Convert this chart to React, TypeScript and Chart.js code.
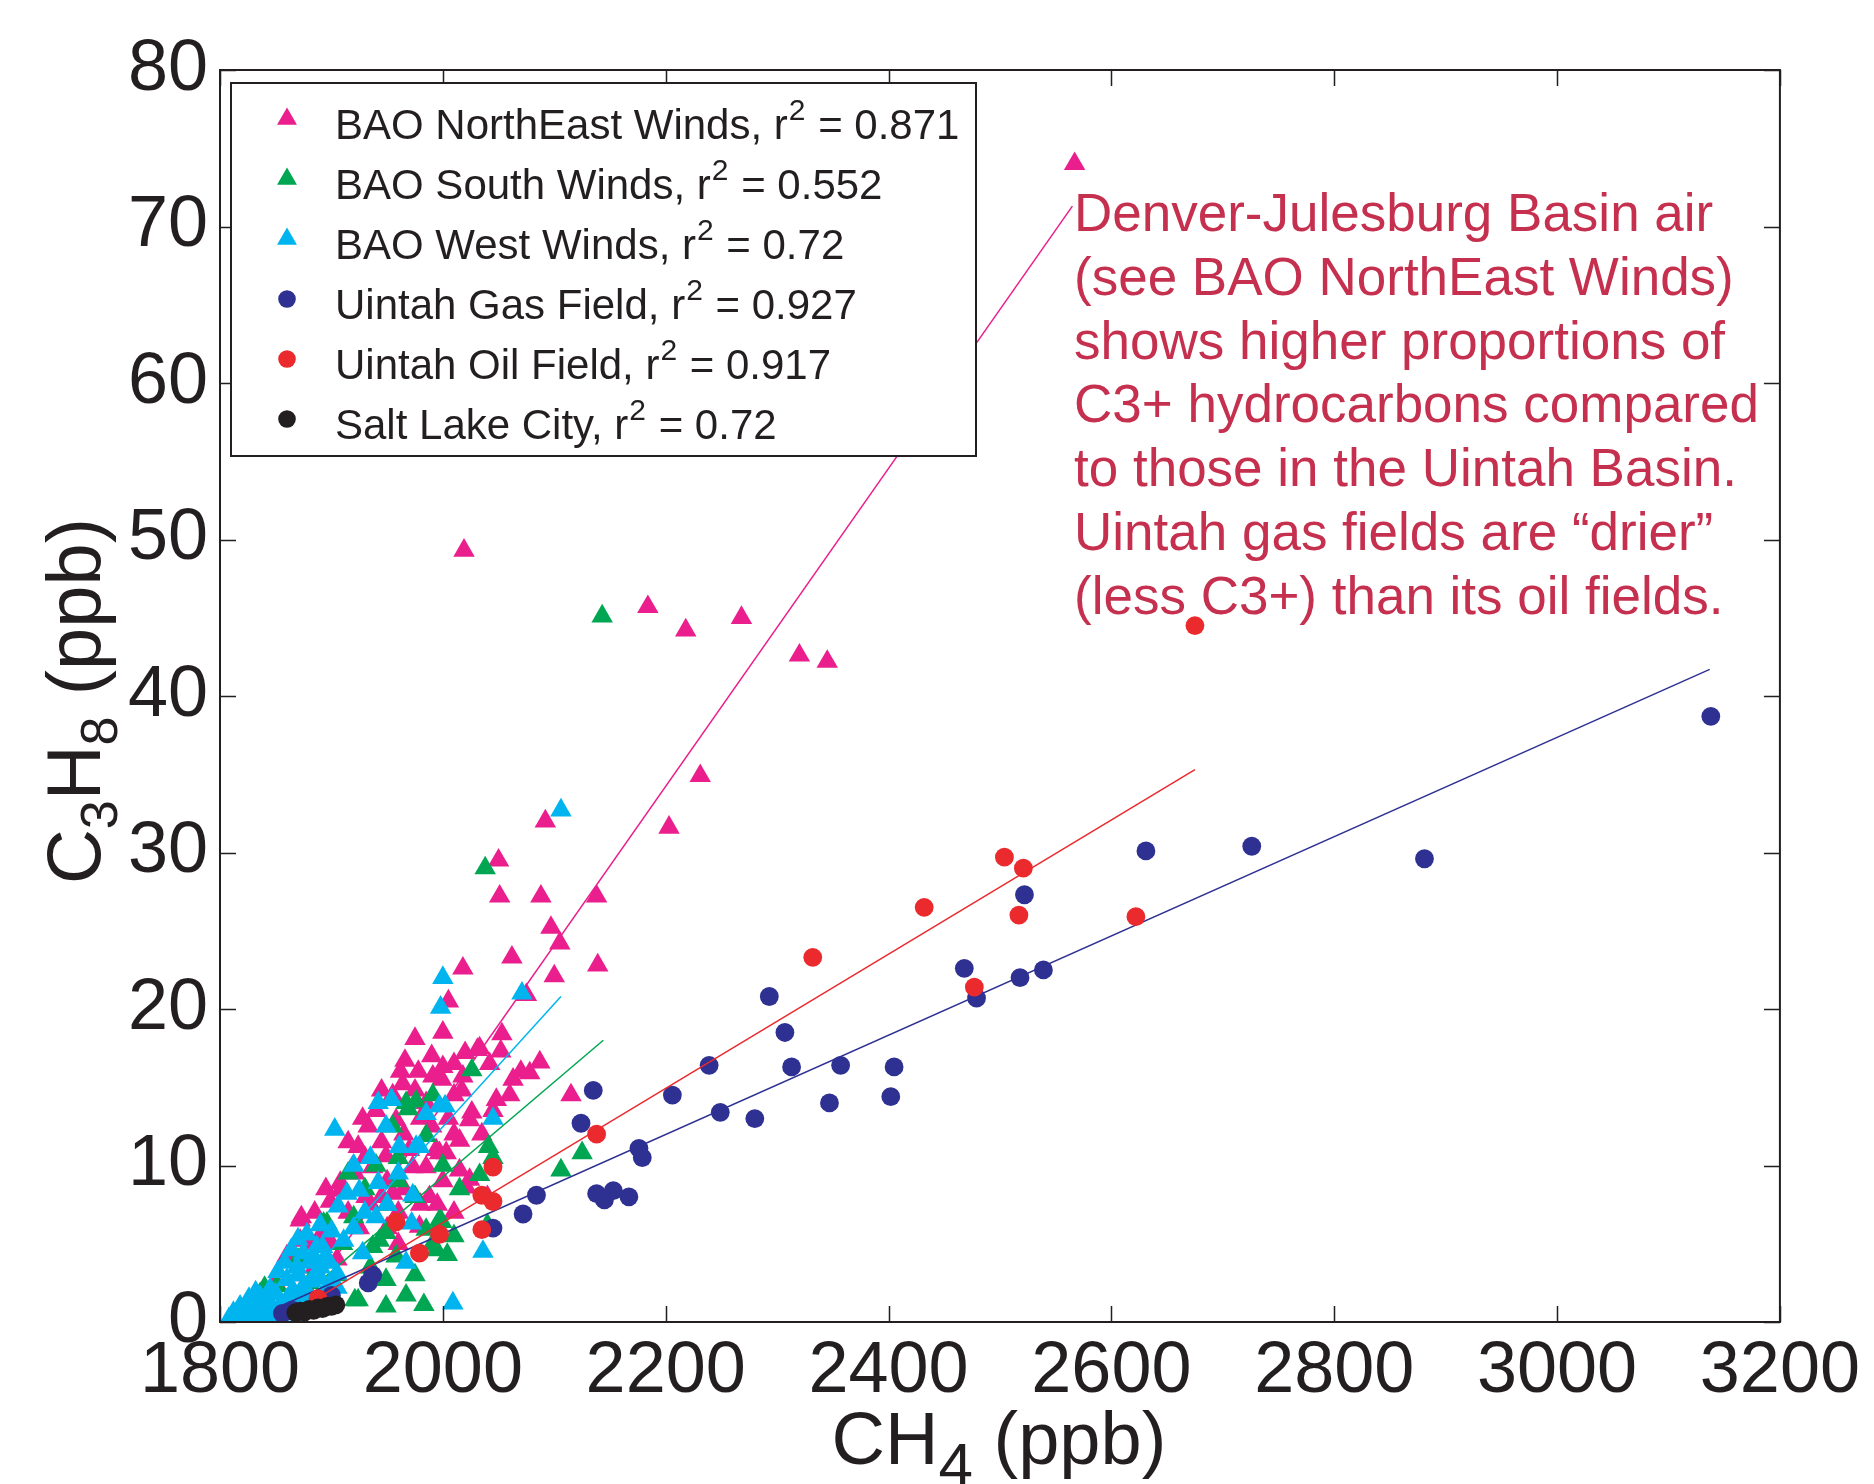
import React, { useEffect, useRef } from 'react';
import { Chart, registerables } from 'chart.js';

Chart.register(...registerables);

const FONT = '"Liberation Sans", Arial, Helvetica, sans-serif';
const INK = '#231F20';
const NOTE_COLOR = '#C6304F';

const xTicks = [1800, 2000, 2200, 2400, 2600, 2800, 3000, 3200];
const yTicks = [0, 10, 20, 30, 40, 50, 60, 70, 80];

const seriesNames = [
  'BAO NorthEast Winds',
  'BAO South Winds',
  'BAO West Winds',
  'Uintah Gas Field',
  'Uintah Oil Field',
  'Salt Lake City',
];
const rSquared = ['0.871', '0.552', '0.72', '0.927', '0.917', '0.72'];
const seriesColors = ['#EA1F8D', '#00A651', '#00B5EF', '#2E3192', '#EB2A2E', '#231F20'];
const seriesShapes = ['triangle', 'triangle', 'triangle', 'circle', 'circle', 'circle'];

const northEastPoints = [
  [2567, 74.0], [2019, 49.3], [2184, 45.7], [2218, 44.2], [2268, 45.0], [2320, 42.6], [2345, 42.2],
  [2231, 34.9], [2203, 31.6], [2092, 32.0], [2050, 29.5], [2051, 27.2], [2088, 27.2], [2138, 27.2],
  [2097, 25.2], [2105, 24.2], [2062, 23.3], [2139, 22.8], [2018, 22.6], [2100, 22.1], [2075, 20.9],
  [2005, 20.5], [1975, 18.1], [2000, 18.5], [2053, 18.4], [1966, 16.7], [2031, 17.4], [2020, 17.2],
  [2052, 17.3], [2042, 16.5], [2087, 16.6], [2078, 15.9], [2063, 15.5], [2000, 16.3], [1999, 15.5],
  [2018, 15.7], [2017, 14.8], [1964, 15.2], [2048, 14.2], [2026, 13.4], [2115, 14.5], [1991, 15.7],
  [2033, 17.5], [1933, 12.5], [1958, 12.9], [1924, 11.2], [2015, 11.6], [1997, 10.8], [1949, 10.6],
  [1921, 9.5], [1973, 9.9], [1908, 8.4], [1955, 8.2], [1988, 8.0], [2021, 8.6], [1899, 7.7],
  [1872, 6.5], [1863, 4.4], [1881, 5.0], [2015, 9.7], [1919, 9.9], [1937, 9.9], [1985, 9.9],
  [1994, 11.0], [2003, 10.8], [2024, 12.9], [1979, 6.1], [2024, 9.1], [1931, 8.0], [1890, 5.5],
  [1860, 4.2], [1872, 5.2], [1873, 6.7], [1908, 8.9], [1945, 11.5], [1965, 12.0], [1980, 13.0],
  [1940, 13.5], [1955, 14.5], [1985, 14.0], [2005, 13.0], [2010, 14.5], [1970, 11.0], [1950, 9.0],
  [1915, 7.0], [1935, 7.5], [1960, 7.0], [1995, 7.5], [2010, 7.0], [2040, 8.0], [1925, 6.0],
  [1950, 6.0], [1900, 5.0], [1885, 3.5], [1905, 4.0], [1870, 3.0], [1850, 2.5], [1840, 1.5],
  [1830, 1.0], [1960, 5.0], [1990, 12.5], [2035, 12.0], [2045, 13.5], [2060, 14.5], [2070, 16.0],
  [2010, 16.5], [1990, 17.0], [1915, 11.5], [1928, 13.0], [1945, 14.8], [1962, 16.0], [1978, 16.0],
  [1930, 10.5], [1895, 8.5], [1885, 7.0], [1945, 8.0], [1965, 8.5], [1980, 7.5], [2000, 9.0],
  [2010, 12.0], [1975, 14.8],
];

const southPoints = [
  [2143, 45.1], [2038, 29.0], [2041, 11.2], [2125, 10.8], [2106, 9.7], [2004, 4.3], [1983, 1.1],
  [1949, 1.0], [2026, 16.1], [1969, 13.6], [1976, 14.1], [1991, 14.5], [2033, 9.4], [1999, 6.4],
  [1994, 4.6], [1967, 1.7], [1924, 1.4], [1949, 5.7], [1937, 4.8], [1920, 6.7], [1896, 6.3],
  [1985, 5.9], [1967, 14.0], [1985, 11.9], [1893, 6.3], [1943, 5.2], [1958, 4.2], [1949, 2.7],
  [1991, 5.0], [1997, 6.5], [1851, 2.3], [1836, 1.8], [1818, 0.6], [1840, 2.2], [1921, 1.4],
  [1960, 9.0], [1975, 8.0], [1950, 7.5], [1930, 8.5], [1910, 5.0], [1935, 3.5], [1905, 3.0],
  [1880, 2.5], [1870, 4.0], [1960, 10.5], [2015, 8.5], [2010, 5.5], [1975, 3.0], [1940, 10.0],
  [2000, 10.0], [1955, 12.5], [2045, 10.5], [2040, 6.2], [1915, 9.5],
];

const westPoints = [
  [2106, 32.7], [2071, 21.0], [2000, 22.0], [1998, 20.1], [1903, 12.3], [2009, 1.2], [2036, 4.5],
  [2045, 13.0], [1942, 14.0], [1954, 14.2], [1985, 13.3], [1997, 13.8], [2002, 13.8], [1949, 12.5],
  [1961, 11.2], [1979, 11.2], [1973, 8.1], [1942, 8.9], [1925, 8.4], [1914, 8.2], [1906, 7.4],
  [1940, 6.7], [1972, 6.3], [1967, 3.8], [1928, 4.4], [1911, 5.2], [1887, 4.8], [1875, 4.4],
  [1869, 3.5], [1890, 3.5], [1905, 3.1], [1860, 2.7], [1845, 2.1], [1836, 1.6], [1824, 1.0],
  [1812, 0.6], [1830, 0.6], [1845, 1.0], [1860, 1.4], [1875, 2.3], [1976, 11.2], [1808, 0.2],
  [1815, 0.3], [1820, 0.5], [1825, 0.2], [1835, 0.3], [1840, 0.5], [1850, 0.3], [1855, 0.8],
  [1865, 0.5], [1870, 1.0], [1880, 1.5], [1885, 2.8], [1895, 2.0], [1880, 3.8], [1895, 4.2],
  [1900, 5.8], [1890, 6.2], [1920, 6.0], [1930, 7.0], [1950, 7.5], [1960, 9.5], [1935, 10.5],
  [1920, 10.0], [1850, 1.8], [1865, 2.0], [1870, 3.0], [1855, 1.2], [1900, 1.0], [1852, 3.2],
  [1858, 3.8], [1864, 4.6], [1870, 5.3], [1878, 5.6], [1884, 4.2], [1892, 4.8], [1898, 3.8],
  [1882, 2.6], [1890, 2.8], [1872, 1.8], [1880, 1.0], [1890, 1.4], [1898, 2.4], [1905, 2.2],
  [1862, 1.0], [1848, 0.8], [1840, 1.3], [1832, 1.9], [1826, 1.5], [1818, 1.0],
];

const gasPoints = [
  [3138, 38.7], [2881, 29.6], [2726, 30.4], [2631, 30.1], [2522, 27.3], [2468, 22.6], [2479, 20.7],
  [2518, 22.0], [2539, 22.5], [2293, 20.8], [2307, 18.5], [2239, 16.4], [2313, 16.3], [2357, 16.4],
  [2405, 16.3], [2402, 14.4], [2347, 14.0], [2206, 14.5], [2249, 13.4], [2280, 13.0], [2135, 14.8],
  [2124, 12.7], [2176, 11.1], [2179, 10.5], [2138, 8.2], [2145, 7.8], [2153, 8.4], [2167, 8.0],
  [2084, 8.1], [2072, 6.9], [2045, 6.0], [1937, 3.0], [1933, 2.5], [1900, 1.7], [1856, 0.55],
  [1865, 0.75],
];

const oilPoints = [
  [2675, 44.5], [2504, 29.7], [2521, 29.0], [2517, 26.0], [2622, 25.9], [2432, 26.5], [2332, 23.3],
  [2477, 21.4], [2138, 12.0], [2045, 9.9], [2035, 8.1], [2045, 7.7], [2035, 5.9], [1997, 5.6],
  [1958, 6.4], [1979, 4.4], [1888, 1.5],
];

const saltLakePoints = [
  [1868, 0.6], [1872, 0.7], [1876, 0.65], [1880, 0.8], [1884, 0.75], [1888, 0.9], [1892, 0.85],
  [1896, 1.0], [1900, 1.0], [1904, 1.1],
];

const fitNorthEast = [[1866, 0.3], [2565, 71.3]];
const fitSouth = [[1850, 0.2], [2144, 18.0]];
const fitWest = [[1845, 0.3], [2106, 20.8]];
const fitGas = [[1857, 1.1], [3137, 41.7]];
const fitOil = [[1880, 1.2], [2675, 35.3]];

const annotationLines = [
  'Denver-Julesburg Basin air',
  '(see BAO NorthEast Winds)',
  'shows higher proportions of',
  'C3+ hydrocarbons compared',
  'to those in the Uintah Basin.',
  'Uintah gas fields are \u201Cdrier\u201D',
  '(less C3+) than its oil fields.',
];

const allPoints = [northEastPoints, southPoints, westPoints, gasPoints, oilPoints, saltLakePoints];
const allFits = [fitNorthEast, fitSouth, fitWest, fitGas, fitOil];

const toXY = (arr: number[][]) => arr.map(([x, y]) => ({ x, y }));

function drawMarker(ctx: CanvasRenderingContext2D, shape: string, x: number, y: number, color: string) {
  ctx.fillStyle = color;
  ctx.beginPath();
  if (shape === 'triangle') {
    const r = 11.5;
    ctx.moveTo(x, y - r);
    ctx.lineTo(x + r * 0.866, y + r / 2);
    ctx.lineTo(x - r * 0.866, y + r / 2);
    ctx.closePath();
  } else {
    ctx.arc(x, y, 8.8, 0, Math.PI * 2);
  }
  ctx.fill();
}

const decorPlugin = {
  id: 'decor',
  afterDatasetsDraw(chart: any) {
    const { ctx, chartArea, scales } = chart;
    const { left, right, top, bottom } = chartArea;
    const xs = scales.x;
    const ys = scales.y;
    ctx.save();

    // frame
    ctx.strokeStyle = INK;
    ctx.lineWidth = 2;
    ctx.strokeRect(left, top, right - left, bottom - top);

    // inward ticks on all four sides
    ctx.lineWidth = 1.5;
    const TL = 16;
    ctx.beginPath();
    xTicks.forEach((v) => {
      const px = Math.round(xs.getPixelForValue(v)) + 0.5;
      ctx.moveTo(px, bottom);
      ctx.lineTo(px, bottom - TL);
      ctx.moveTo(px, top);
      ctx.lineTo(px, top + TL);
    });
    yTicks.forEach((v) => {
      const py = Math.round(ys.getPixelForValue(v)) + 0.5;
      ctx.moveTo(left, py);
      ctx.lineTo(left + TL, py);
      ctx.moveTo(right, py);
      ctx.lineTo(right - TL, py);
    });
    ctx.stroke();

    // legend box
    const lx = 231, ly = 83, lw = 745, lh = 373;
    ctx.fillStyle = '#FFFFFF';
    ctx.fillRect(lx, ly, lw, lh);
    ctx.strokeStyle = INK;
    ctx.lineWidth = 2;
    ctx.strokeRect(lx, ly, lw, lh);
    const mainFont = `42px ${FONT}`;
    const supFont = `30px ${FONT}`;
    ctx.textBaseline = 'alphabetic';
    ctx.textAlign = 'left';
    seriesNames.forEach((name, i) => {
      const base = 139 + i * 60;
      drawMarker(ctx, seriesShapes[i], 287, base - 20, seriesColors[i]);
      ctx.fillStyle = INK;
      ctx.font = mainFont;
      const first = `${name}, r`;
      ctx.fillText(first, 335, base);
      const w1 = ctx.measureText(first).width;
      ctx.font = supFont;
      ctx.fillText('2', 335 + w1 + 1, base - 19);
      const w2 = ctx.measureText('2').width;
      ctx.font = mainFont;
      ctx.fillText(` = ${rSquared[i]}`, 335 + w1 + w2 + 2, base);
    });

    // annotation
    ctx.fillStyle = NOTE_COLOR;
    ctx.font = `53px ${FONT}`;
    annotationLines.forEach((line, i) => {
      ctx.fillText(line, 1074, 231 + i * 63.8);
    });

    ctx.restore();
  },
  afterDraw(chart: any) {
    const { ctx, chartArea } = chart;
    const { left, right, top, bottom } = chartArea;
    ctx.save();
    ctx.fillStyle = INK;
    ctx.textBaseline = 'alphabetic';
    ctx.textAlign = 'left';

    const drawParts = (parts: { t: string; size: number; dy: number }[], cx: number, baseY: number) => {
      let total = 0;
      parts.forEach((p) => {
        ctx.font = `${p.size}px ${FONT}`;
        total += ctx.measureText(p.t).width;
      });
      let x = cx - total / 2;
      parts.forEach((p) => {
        ctx.font = `${p.size}px ${FONT}`;
        ctx.fillText(p.t, x, baseY + p.dy);
        x += ctx.measureText(p.t).width;
      });
    };

    // x title
    drawParts(
      [
        { t: 'CH', size: 74, dy: 0 },
        { t: '4', size: 62, dy: 22 },
        { t: ' (ppb)', size: 74, dy: 0 },
      ],
      (left + right) / 2 - 1,
      1464,
    );

    // y title
    ctx.translate(100, (top + bottom) / 2 + 5);
    ctx.rotate(-Math.PI / 2);
    drawParts(
      [
        { t: 'C', size: 76, dy: 0 },
        { t: '3', size: 52, dy: 17 },
        { t: 'H', size: 76, dy: 0 },
        { t: '8', size: 52, dy: 17 },
        { t: ' (ppb)', size: 76, dy: 0 },
      ],
      0,
      0,
    );
    ctx.restore();
  },
};

export default function App() {
  const canvasRef = useRef<HTMLCanvasElement | null>(null);

  useEffect(() => {
    document.body.style.margin = '0';
    const canvas = canvasRef.current;
    if (!canvas) return;

    const datasets: any[] = [];
    allPoints.forEach((pts, i) => {
      const r = seriesShapes[i] === 'triangle' ? 12.4 : 9.4;
      datasets.push({
        type: 'scatter',
        label: seriesNames[i],
        data: toXY(pts),
        pointStyle: seriesShapes[i],
        pointRadius: r,
        pointHoverRadius: r,
        backgroundColor: seriesColors[i],
        borderColor: seriesColors[i],
        pointBorderWidth: 0,
        borderWidth: 0,
        order: 20 - 2 * i,
        clip: 0,
      });
      if (i < allFits.length) {
        datasets.push({
          type: 'line',
          label: `${seriesNames[i]} fit`,
          data: toXY(allFits[i]),
          borderColor: seriesColors[i],
          backgroundColor: seriesColors[i],
          borderWidth: 1.5,
          pointRadius: 0,
          fill: false,
          tension: 0,
          order: 19 - 2 * i,
          clip: 0,
        });
      }
    });

    const tickFont = { family: FONT, size: 72, lineHeight: 1 };

    const chart = new Chart(canvas, {
      type: 'scatter',
      data: { datasets },
      options: {
        animation: false,
        responsive: false,
        devicePixelRatio: 1,
        events: [],
        layout: { padding: { top: 70, right: 92, left: 0, bottom: 0 } },
        plugins: {
          legend: { display: false },
          tooltip: { enabled: false },
        },
        scales: {
          x: {
            type: 'linear',
            position: 'bottom',
            min: 1800,
            max: 3200,
            border: { display: false },
            grid: { display: false, drawTicks: false },
            afterBuildTicks: (s: any) => {
              s.ticks = xTicks.map((v) => ({ value: v }));
            },
            afterFit: (s: any) => {
              s.height = 162;
            },
            ticks: {
              font: tickFont,
              color: INK,
              padding: 14,
              maxRotation: 0,
              autoSkip: false,
              callback: (v: any) => String(v),
            },
          },
          y: {
            type: 'linear',
            min: 0,
            max: 80,
            border: { display: false },
            grid: { display: false, drawTicks: false },
            afterBuildTicks: (s: any) => {
              s.ticks = yTicks.map((v) => ({ value: v }));
            },
            afterFit: (s: any) => {
              s.width = 220;
            },
            ticks: {
              font: tickFont,
              color: INK,
              padding: 12,
              autoSkip: false,
              callback: (v: any) => String(v),
            },
          },
        },
      },
      plugins: [decorPlugin],
    } as any);

    return () => {
      chart.destroy();
    };
  }, []);

  return (
    <div style={{ width: 1874, height: 1484, background: '#FFFFFF' }}>
      <canvas ref={canvasRef} width={1874} height={1484} style={{ display: 'block' }} />
    </div>
  );
}
